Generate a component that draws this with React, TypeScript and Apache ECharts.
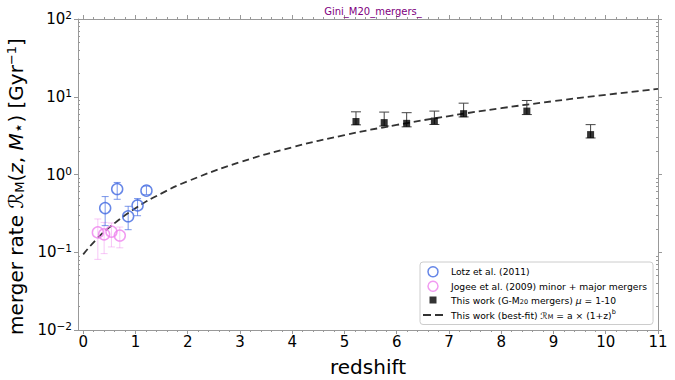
import React, { useEffect, useRef } from 'react';
import * as echarts from 'echarts';

// Lotz et al. (2011)
const lotzZ = [0.42, 0.65, 0.86, 1.04, 1.21];
const lotzRate = [0.37, 0.65, 0.29, 0.4, 0.62];
const lotzLo = [0.22, 0.48, 0.195, 0.295, 0.55];
const lotzHi = [0.52, 0.79, 0.39, 0.49, 0.71];

// Jogee et al. (2009)
const jogeeZ = [0.28, 0.4, 0.54, 0.7];
const jogeeRate = [0.18, 0.17, 0.184, 0.164];
const jogeeLo = [0.081, 0.096, 0.117, 0.114];
const jogeeHi = [0.268, 0.242, 0.238, 0.211];

// This work (G-M20 mergers)
const workZ = [5.22, 5.76, 6.19, 6.72, 7.28, 8.49, 9.71];
const workRate = [4.8, 4.65, 4.55, 4.87, 6.06, 6.54, 3.26];
const workLo = [4.35, 4.2, 4.1, 4.4, 5.5, 5.9, 2.95];
const workHi = [6.4, 6.35, 6.24, 6.54, 8.27, 8.95, 4.38];

// Best-fit curve
const fitZ = [0, 0.25, 0.5, 1, 1.5, 2, 3, 4, 5, 6, 7, 8, 9, 10, 11];
const fitRate = [0.094, 0.146, 0.209, 0.368, 0.572, 0.819, 1.44, 2.24, 3.21, 4.34, 5.65, 7.13, 8.77, 10.6, 12.6];

// Ticks
const xTicks = [0, 1, 2, 3, 4, 5, 6, 7, 8, 9, 10, 11];
const xMinorTicks = [
  0.2, 0.4, 0.6, 0.8, 1.2, 1.4, 1.6, 1.8, 2.2, 2.4, 2.6, 2.8, 3.2, 3.4, 3.6, 3.8,
  4.2, 4.4, 4.6, 4.8, 5.2, 5.4, 5.6, 5.8, 6.2, 6.4, 6.6, 6.8, 7.2, 7.4, 7.6, 7.8,
  8.2, 8.4, 8.6, 8.8, 9.2, 9.4, 9.6, 9.8, 10.2, 10.4, 10.6, 10.8,
];
const yTicks = [0.01, 0.1, 1, 10, 100];
const yMinorTicks = [
  0.02, 0.03, 0.04, 0.05, 0.06, 0.07, 0.08, 0.09,
  0.2, 0.3, 0.4, 0.5, 0.6, 0.7, 0.8, 0.9,
  2, 3, 4, 5, 6, 7, 8, 9,
  20, 30, 40, 50, 60, 70, 80, 90,
];

const NAME_LOTZ = 'Lotz et al. (2011)';
const NAME_JOGEE = 'Jogee et al. (2009) minor + major mergers';
const NAME_WORK = 'This work (G-M20 mergers) mu = 1-10';
const NAME_FIT = 'This work (best-fit)';

const FONT = 'DejaVu Sans';
const SPINE = '#999999';
const BLUE = '#4169e1';
const PINK = '#ee82ee';
const XMIN = -0.1;
const XMAX = 11;

function zip4(a: number[], b: number[], c: number[], d: number[]) {
  return a.map((v, i) => [v, b[i], c[i], d[i]]);
}

function errRender(capW: number, color: string, width: number) {
  return (params: any, api: any) => {
    const x = api.value(0);
    const lo = api.value(2);
    const hi = api.value(3);
    const top = api.coord([x, hi]);
    const bot = api.coord([x, lo]);
    const style = { stroke: color, lineWidth: width };
    return {
      type: 'group',
      children: [
        { type: 'line', shape: { x1: top[0], y1: top[1], x2: bot[0], y2: bot[1] }, style },
        { type: 'line', shape: { x1: top[0] - capW / 2, y1: top[1], x2: top[0] + capW / 2, y2: top[1] }, style },
        { type: 'line', shape: { x1: bot[0] - capW / 2, y1: bot[1], x2: bot[0] + capW / 2, y2: bot[1] }, style },
      ],
    };
  };
}

function expLabel(v: number) {
  const e = Math.round(Math.log10(v));
  const s = e < 0 ? '\u2212' + -e : String(e);
  return '{b|10}{s|' + s + '}';
}

export default function App() {
  const ref = useRef<HTMLDivElement>(null);

  useEffect(() => {
    if (!ref.current) return;
    const chart = echarts.init(ref.current, null, { renderer: 'svg' });

    const hiddenX = {
      min: XMIN,
      max: XMAX,
      type: 'value' as const,
      splitLine: { show: false },
      axisLabel: { show: false },
    };
    const logY = {
      type: 'log' as const,
      logBase: 10,
      min: 0.01,
      max: 100,
      splitLine: { show: false },
    };

    const option: any = {
      animation: false,
      backgroundColor: '#ffffff',
      textStyle: { fontFamily: FONT },
      title: {
        text: 'Gini_M20_mergers_',
        left: 368,
        textAlign: 'center',
        top: 1,
        textStyle: { fontSize: 10, color: '#800080', fontWeight: 'normal', fontFamily: FONT },
      },
      grid: { left: 78, right: 17, top: 19, bottom: 50, containLabel: false, outerBoundsMode: 'none' },
      legend: {
        left: 420,
        top: 262,
        orient: 'vertical',
        padding: [4, 6, 4, 3],
        itemGap: 3,
        itemWidth: 20,
        itemHeight: 10,
        backgroundColor: 'rgba(255,255,255,0.85)',
        borderColor: '#cccccc',
        borderWidth: 1,
        borderRadius: 3,
        textStyle: {
          fontSize: 9.2,
          color: '#000',
          fontFamily: FONT,
          padding: [0, 0, 0, 3],
          rich: {
            sub: { fontSize: 6.5, fontFamily: FONT, color: '#000', padding: [4, 0, 0, 0] },
            sup: { fontSize: 6.5, fontFamily: FONT, color: '#000', padding: [0, 0, 6, 0] },
            it: { fontSize: 9.2, fontFamily: FONT, fontStyle: 'italic', color: '#000' },
            cal: { fontSize: 9.2, fontFamily: FONT, color: '#000' },
          },
        },
        formatter: (name: string) => {
          if (name === NAME_WORK) return 'This work (G-M{sub|20} mergers) {it|\u03bc} = 1-10';
          if (name === NAME_FIT) return 'This work (best-fit) {cal|\u211b}{sub|M} = a \u00d7 (1+z){sup|b}';
          return name;
        },
        data: [
          { name: NAME_LOTZ, icon: 'circle', itemStyle: { color: 'rgba(0,0,0,0)', borderColor: BLUE, borderWidth: 1.5 } },
          { name: NAME_JOGEE, icon: 'circle', itemStyle: { color: 'rgba(0,0,0,0)', borderColor: PINK, borderWidth: 1.5 } },
          { name: NAME_WORK, icon: 'path://M0,0L0,0M10,10L10,10M1.5,1.5L8.5,1.5L8.5,8.5L1.5,8.5Z', itemStyle: { color: '#000' } },
          { name: NAME_FIT, icon: 'path://M0,4.1L7,4.1L7,5.9L0,5.9ZM10.5,4.1L17.5,4.1L17.5,5.9L10.5,5.9Z', itemStyle: { color: '#333333', borderWidth: 0 } },
        ],
      },
      xAxis: [
        {
          type: 'value',
          min: XMIN,
          max: XMAX,
          position: 'bottom',
          name: 'redshift',
          nameLocation: 'middle',
          nameGap: 27,
          nameTextStyle: { fontSize: 20, color: '#000', fontFamily: FONT },
          axisLine: { show: true, onZero: false, lineStyle: { color: SPINE, width: 1 } },
          axisTick: { show: true, customValues: xTicks, length: 4, lineStyle: { color: SPINE } },
          axisLabel: { customValues: xTicks, fontSize: 15, color: '#000', margin: 4, fontFamily: FONT },
          splitLine: { show: false },
        },
        {
          ...hiddenX,
          position: 'bottom',
          axisLine: { show: false, onZero: false },
          axisTick: { show: true, customValues: xMinorTicks, length: 2, lineStyle: { color: SPINE } },
        },
        {
          ...hiddenX,
          position: 'top',
          axisLine: { show: true, onZero: false, lineStyle: { color: SPINE, width: 1 } },
          axisTick: { show: true, customValues: xTicks, length: 4, lineStyle: { color: SPINE } },
        },
        {
          ...hiddenX,
          position: 'top',
          axisLine: { show: false, onZero: false },
          axisTick: { show: true, customValues: xMinorTicks, length: 2, lineStyle: { color: SPINE } },
        },
      ],
      yAxis: [
        {
          ...logY,
          position: 'left',
          name: 'merger rate {cal|\u211b}{sub|M}({it|z}, {it|M}{star|\u22c6}) [Gyr{sup|\u22121}]',
          nameLocation: 'middle',
          nameGap: 50,
          nameTextStyle: {
            fontSize: 20,
            color: '#000',
            fontFamily: FONT,
            padding: [0, 24, 0, 0],
            rich: {
              cal: { fontSize: 20, fontFamily: FONT, color: '#000' },
              it: { fontSize: 20, fontFamily: FONT, fontStyle: 'italic', color: '#000' },
              sub: { fontSize: 13, fontFamily: FONT, color: '#000', padding: [7, 0, 0, 0] },
              star: { fontSize: 17, fontFamily: FONT, color: '#000', padding: [5, 0, 0, 0] },
              sup: { fontSize: 13, fontFamily: FONT, color: '#000', padding: [0, 0, 9, 0] },
            },
          },
          axisLine: { show: true, onZero: false, lineStyle: { color: SPINE, width: 1 } },
          axisTick: { show: true, customValues: yTicks, length: 4, lineStyle: { color: SPINE } },
          axisLabel: {
            customValues: yTicks,
            formatter: expLabel,
            margin: 6,
            rich: {
              b: { fontSize: 15, color: '#000', fontFamily: FONT },
              s: { fontSize: 10.5, color: '#000', fontFamily: FONT, padding: [0, 0, 8, 0] },
            },
          },
        },
        {
          ...logY,
          position: 'left',
          axisLine: { show: false, onZero: false },
          axisTick: { show: true, inside: true, customValues: yMinorTicks, length: 2, lineStyle: { color: SPINE } },
          axisLabel: { show: false },
        },
        {
          ...logY,
          position: 'right',
          axisLine: { show: true, onZero: false, lineStyle: { color: SPINE, width: 1 } },
          axisTick: { show: true, customValues: yTicks, length: 4, lineStyle: { color: SPINE } },
          axisLabel: { show: false },
        },
        {
          ...logY,
          position: 'right',
          axisLine: { show: false, onZero: false },
          axisTick: { show: true, inside: true, customValues: yMinorTicks, length: 2, lineStyle: { color: SPINE } },
          axisLabel: { show: false },
        },
      ],
      series: [
        {
          name: 'fit-line',
          type: 'line',
          data: fitZ.map((z, i) => [z, fitRate[i]]),
          smooth: true,
          symbol: 'none',
          lineStyle: { color: '#333333', width: 1.8, type: [7, 4] },
          itemStyle: { color: '#333333' },
          z: 3,
        },
        {
          name: 'err-jogee',
          type: 'custom',
          renderItem: errRender(7, 'rgba(238,130,238,0.45)', 1),
          data: zip4(jogeeZ, jogeeRate, jogeeLo, jogeeHi),
          encode: { x: 0, y: [1, 2, 3] },
          z: 2,
        },
        {
          name: 'err-lotz',
          type: 'custom',
          renderItem: errRender(7, 'rgba(65,105,225,0.7)', 1),
          data: zip4(lotzZ, lotzRate, lotzLo, lotzHi),
          encode: { x: 0, y: [1, 2, 3] },
          z: 2,
        },
        {
          name: 'err-work',
          type: 'custom',
          renderItem: errRender(10, '#444444', 1),
          data: zip4(workZ, workRate, workLo, workHi),
          encode: { x: 0, y: [1, 2, 3] },
          z: 2,
        },
        {
          name: NAME_JOGEE,
          type: 'scatter',
          symbol: 'circle',
          symbolSize: 11,
          data: jogeeZ.map((z, i) => [z, jogeeRate[i]]),
          itemStyle: { color: 'rgba(0,0,0,0)', borderColor: PINK, borderWidth: 1.5 },
          z: 4,
        },
        {
          name: NAME_LOTZ,
          type: 'scatter',
          symbol: 'circle',
          symbolSize: 11,
          data: lotzZ.map((z, i) => [z, lotzRate[i]]),
          itemStyle: { color: 'rgba(0,0,0,0)', borderColor: BLUE, borderWidth: 1.5 },
          z: 4,
        },
        {
          name: NAME_WORK,
          type: 'scatter',
          symbol: 'rect',
          symbolSize: 7,
          data: workZ.map((z, i) => [z, workRate[i]]),
          itemStyle: { color: '#000000' },
          z: 4,
        },
        {
          name: NAME_FIT,
          type: 'line',
          data: [],
          symbol: 'none',
          lineStyle: { color: '#333333', width: 1.8, type: [6, 3.5] },
          itemStyle: { color: '#333333' },
        },
      ],
    };

    chart.setOption(option);
    return () => chart.dispose();
  }, []);

  return (
    <div
      ref={ref}
      style={{ position: 'fixed', left: 0, top: 0, width: 675, height: 380, background: '#fff' }}
    />
  );
}
